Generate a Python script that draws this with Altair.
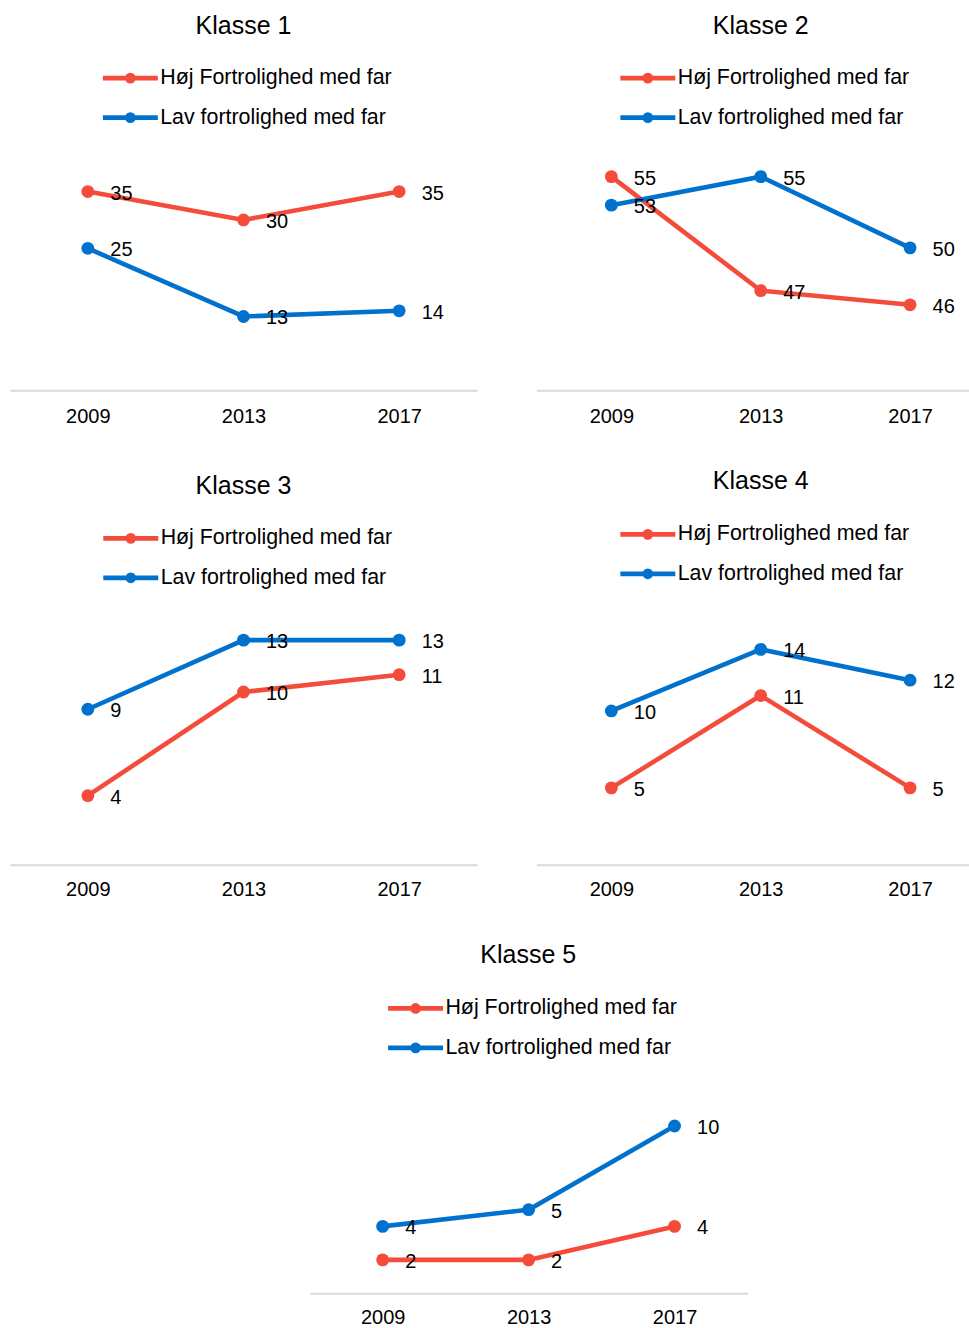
import altair as alt
import pandas as pd

# ---- data -------------------------------------------------------------
YEARS = ["2009", "2013", "2017"]
SERIES = ["Høj Fortrolighed med far", "Lav fortrolighed med far"]
COLORS = ["#F44B3B", "#0072CE"]

KLASSE_1_HOJ = [35, 30, 35]
KLASSE_1_LAV = [25, 13, 14]
KLASSE_2_HOJ = [55, 47, 46]
KLASSE_2_LAV = [53, 55, 50]
KLASSE_3_HOJ = [4, 10, 11]
KLASSE_3_LAV = [9, 13, 13]
KLASSE_4_HOJ = [5, 11, 5]
KLASSE_4_LAV = [10, 14, 12]
KLASSE_5_HOJ = [2, 2, 4]
KLASSE_5_LAV = [4, 5, 10]

FONT = "Liberation Sans"

# legend glyph: a short thick line with a dot in the middle
LEGEND_PATH = ("M-2.75,0L2.75,0"
               "M0.3,0A0.3,0.3 0 1,1 -0.3,0A0.3,0.3 0 1,1 0.3,0")


def panel(title, hoj, lav, width, height, y_domain, x_scale,
          legend_x, legend_y, title_offset, title_dx=0, label_pad=16):
    df = pd.DataFrame({
        "year": YEARS * 2,
        "serie": [SERIES[0]] * len(YEARS) + [SERIES[1]] * len(YEARS),
        "value": list(hoj) + list(lav),
    })

    legend = alt.Legend(
        title=None, orient="none", legendX=legend_x, legendY=legend_y,
        direction="vertical", symbolType=LEGEND_PATH, symbolSize=400,
        symbolStrokeWidth=4.8, symbolOpacity=1, labelFontSize=21.4,
        labelFont=FONT, labelColor="black", labelOffset=17.4,
        labelLimit=400, rowPadding=12.5, padding=0,
    )
    color = alt.Color("serie:N", scale=alt.Scale(domain=SERIES, range=COLORS),
                      legend=legend)

    x = alt.X("year:N", sort=YEARS, scale=x_scale,
              axis=alt.Axis(title=None, labelAngle=0, ticks=False, grid=False,
                            domainColor="#D9D9D9", domainWidth=2,
                            labelFontSize=20, labelFont=FONT,
                            labelColor="black", labelPadding=label_pad))
    y = alt.Y("value:Q", scale=alt.Scale(domain=y_domain, zero=False, nice=False),
              axis=None)

    base = alt.Chart(df).encode(x=x, y=y)
    lines = base.mark_line(strokeWidth=4.6).encode(color=color)
    dots = base.mark_circle(size=165, opacity=1).encode(color=color)
    labels = base.mark_text(align="left", baseline="middle", dx=22.5, dy=2,
                            fontSize=20, font=FONT, color="black").encode(
        text="value:Q")

    return alt.layer(lines, dots, labels).properties(
        width=width, height=height,
        title=alt.TitleParams(title, fontSize=25, font=FONT, fontWeight="normal",
                              color="black", anchor="middle", frame="group",
                              offset=title_offset, dx=title_dx),
    )


left_x = alt.Scale(type="point", padding=0.5)
right_x = alt.Scale(type="point", padding=0.4465, align=0.5618)
# the last panel sits in the left column but its axis is centred on the page
bottom_x = alt.Scale(type="point", padding=0.5, range=[300, 738.3])

p1 = panel("Klasse 1", KLASSE_1_HOJ, KLASSE_1_LAV, 467.5, 345, [0, 60.7],
           left_x, 108.0, 20.0, 6.65, label_pad=16)
p2 = panel("Klasse 2", KLASSE_2_HOJ, KLASSE_2_LAV, 432.5, 345, [40, 64.2],
           right_x, 99.0, 20.0, 6.65, title_dx=8.25, label_pad=16)
p3 = panel("Klasse 3", KLASSE_3_HOJ, KLASSE_3_LAV, 467.5, 365, [0, 21.1],
           left_x, 108.4, 25.7, 1.65, label_pad=15)
p4 = panel("Klasse 4", KLASSE_4_HOJ, KLASSE_4_LAV, 432.5, 365, [0, 23.7],
           right_x, 99.0, 21.7, 5.85, title_dx=8.25, label_pad=15)
p5 = panel("Klasse 5", KLASSE_5_HOJ, KLASSE_5_LAV, 467.5, 319, [0, 19.04],
           bottom_x, 393.5, 21.3, 6.65, title_dx=285.05, label_pad=14.5)

chart = alt.concat(
    p1, p2, p3, p4, p5,
    columns=2, spacing={"row": 110, "column": 59}, bounds="flush",
).resolve_scale(color="independent").resolve_legend(color="independent").properties(
    padding={"left": 10, "top": 13, "right": 0, "bottom": 0},
    background="white",
).configure(font=FONT).configure_view(stroke=None)

chart.save("out.html", embed_options={"renderer": "svg", "actions": False})
